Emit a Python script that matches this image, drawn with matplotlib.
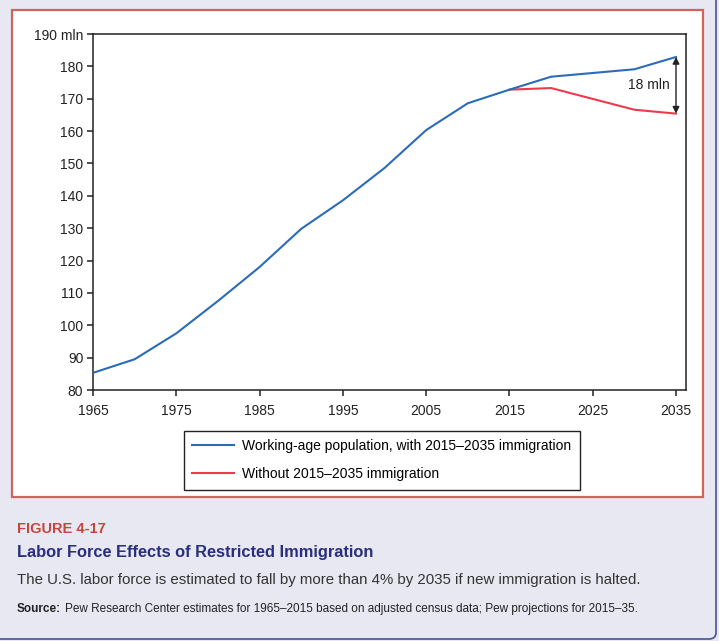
import matplotlib
matplotlib.use("Agg")
import matplotlib.pyplot as plt
from matplotlib.patches import Rectangle, FancyBboxPatch

# data (millions)
years = [1965, 1970, 1975, 1980, 1985, 1990, 1995, 2000, 2005, 2010, 2015, 2020, 2030, 2035]
with_immig = [85.3, 89.5, 97.5, 107.5, 118.0, 129.8, 138.6, 148.6, 160.3, 168.6, 172.8, 176.8, 179.1, 182.9]
years_without = [2015, 2020, 2030, 2035]
without_immig = [172.8, 173.3, 166.6, 165.4]

xticks = [1965, 1975, 1985, 1995, 2005, 2015, 2025, 2035]
yticks = list(range(80, 191, 10))
ytick_labels = [str(v) for v in yticks[:-1]] + ["190 mln"]

label_with = "Working-age population, with 2015\u20132035 immigration"
label_without = "Without 2015\u20132035 immigration"

W, H = 719, 641
BG = "#e8e8f2"
BLUE = "#2b6cb8"
RED = "#ee3a4e"

plt.rcParams["font.family"] = ["Liberation Sans", "DejaVu Sans"]

fig = plt.figure(figsize=(W / 100, H / 100), dpi=100)
fig.patch.set_facecolor(BG)

# page edge on the right with rounded corner
fig.patches.append(FancyBboxPatch((-0.05, 1 - 639 / H), 0.05 + 716 / W, 0.2 + 639 / H,
                                  boxstyle="round,pad=0,rounding_size=0.01",
                                  transform=fig.transFigure, facecolor=BG,
                                  edgecolor="#4b4f99", lw=1.2, zorder=-3))
# red panel frame
fig.patches.append(Rectangle((12 / W, 1 - 497 / H), (703 - 12) / W, (497 - 10) / H,
                             transform=fig.transFigure, facecolor="white",
                             edgecolor="#d2625c", lw=1.6, zorder=-2))

ax = fig.add_axes([93 / W, 1 - 390 / H, (686 - 93) / W, (390 - 34) / H])
ax.plot(years, with_immig, color=BLUE, lw=1.5, label=label_with, zorder=3)
ax.plot(years_without, without_immig, color=RED, lw=1.5, label=label_without, zorder=2)

ax.set_xlim(1965, 2036.2)
ax.set_ylim(80, 190)
ax.set_xticks(xticks)
ax.set_yticks(yticks)
ax.set_yticklabels(ytick_labels)
ax.tick_params(direction="out", length=4, width=1.1, labelsize=10, color="#222222",
               labelcolor="#222222", pad=3)
ax.tick_params(axis="x", pad=6)
for s in ax.spines.values():
    s.set_linewidth(1.1)
    s.set_color("#222222")

ax.annotate("", xy=(2035, with_immig[-1]), xytext=(2035, without_immig[-1]),
            arrowprops=dict(arrowstyle="<|-|>", color="#222222", lw=1,
                            mutation_scale=10, shrinkA=0, shrinkB=0))
ax.text(2034.2, 174.3, "18 mln", ha="right", va="center", fontsize=10, color="#222222")

fig.legend(loc="upper left", bbox_to_anchor=(184 / W, 1 - 431 / H),
           bbox_transform=fig.transFigure, fontsize=10, frameon=True, fancybox=False,
           edgecolor="#222222", framealpha=1, handlelength=3.0, handletextpad=0.6,
           labelspacing=1.0, borderpad=0.6, borderaxespad=0)
fig.legends[0].get_frame().set_linewidth(1.0)

fig.text(17 / W, 1 - 529 / H, "FIGURE 4-17", color="#c9443c", fontsize=10.5,
         fontweight="bold", va="center", ha="left")
fig.text(17 / W, 1 - 553 / H, "Labor Force Effects of Restricted Immigration",
         color="#2a2e7e", fontsize=11.8, fontweight="bold", va="center", ha="left")
fig.text(17 / W, 1 - 580 / H,
         "The U.S. labor force is estimated to fall by more than 4% by 2035 if new immigration is halted.",
         color="#333333", fontsize=10.85, va="center", ha="left")
src = fig.text(17 / W, 1 - 609 / H, "Source:", color="#222222", fontsize=8.5,
               fontweight="bold", va="center", ha="left")
fig.canvas.draw()
bb = src.get_window_extent()
fig.text(bb.x1 / W + 4 / W, 1 - 609 / H,
         "Pew Research Center estimates for 1965\u20132015 based on adjusted census data; "
         "Pew projections for 2015\u201335.",
         color="#222222", fontsize=8.5, va="center", ha="left")

fig.savefig("out.png", dpi=100, facecolor=BG)
